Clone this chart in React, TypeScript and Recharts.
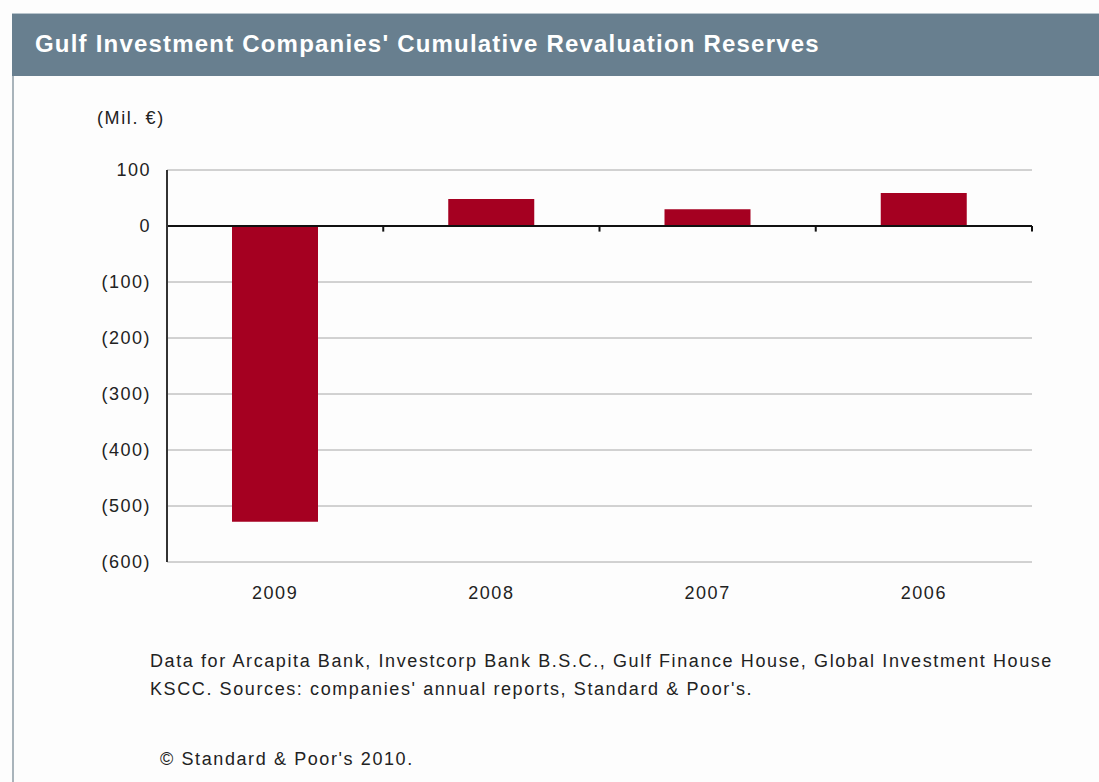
import React from "react";
import {
  Bar,
  BarChart,
  CartesianGrid,
  ReferenceLine,
  XAxis,
  YAxis,
} from "recharts";

const years = ["2009", "2008", "2007", "2006"];
const reserves = [-528, 48, 30, 59];
const yTicks = [100, 0, -100, -200, -300, -400, -500, -600];
const boundaryTicks = [1, 2, 3, 4];

const data = years.map((year, i) => ({ pos: i + 0.5, year, value: reserves[i] }));

const font = "'Liberation Sans', Arial, sans-serif";

const fmtY = (v: number) => (v < 0 ? `(${Math.abs(v)})` : `${v}`);
const fmtX = (v: number) => years[Math.floor(v)] ?? "";

const tickStyle = { fill: "#222", fontSize: 18, fontFamily: font, letterSpacing: 1.5 };

const App: React.FC = () => {
  return (
    <div
      style={{
        position: "absolute",
        left: 0,
        top: 0,
        width: 1099,
        height: 782,
        background: "#fdfdfd",
        fontFamily: font,
        overflow: "hidden",
      }}
    >
      <div
        style={{
          position: "absolute",
          left: 12,
          top: 13,
          width: 1087,
          height: 63,
          background: "#687f8f",
          borderTop: "1px solid #b8c4cc",
          boxSizing: "border-box",
        }}
      />
      <div
        style={{
          position: "absolute",
          left: 12,
          top: 76,
          width: 2,
          height: 706,
          background: "#a9b4bb",
        }}
      />
      <div
        style={{
          position: "absolute",
          left: 35,
          top: 29,
          lineHeight: "30px",
          color: "#ffffff",
          fontWeight: "bold",
          fontSize: 24,
          letterSpacing: 1.2,
          whiteSpace: "nowrap",
        }}
      >
        Gulf Investment Companies' Cumulative Revaluation Reserves
      </div>
      <div
        style={{
          position: "absolute",
          left: 97,
          top: 104,
          lineHeight: "28px",
          fontSize: 18,
          letterSpacing: 1.6,
          color: "#222",
        }}
      >
        (Mil. €)
      </div>
      <div style={{ position: "absolute", left: 0, top: 0 }}>
        <BarChart
          width={1099}
          height={620}
          data={data}
          margin={{ top: 170, right: 67, left: 0, bottom: 28 }}
        >
          <CartesianGrid horizontal vertical={false} stroke="#a6a6a6" />
          <XAxis
            type="number"
            dataKey="pos"
            domain={[0, 4]}
            ticks={[0.5, 1.5, 2.5, 3.5]}
            tickFormatter={fmtX}
            axisLine={false}
            tickLine={false}
            tickMargin={18}
            height={30}
            tick={tickStyle}
          />
          <YAxis
            domain={[-600, 100]}
            ticks={yTicks}
            tickFormatter={fmtY}
            width={167}
            axisLine={{ stroke: "#333", strokeWidth: 2 }}
            tickLine={false}
            tickMargin={10}
            tick={tickStyle}
          />
          <ReferenceLine y={0} stroke="#111" strokeWidth={2} />
          {boundaryTicks.map((b) => (
            <ReferenceLine
              key={b}
              segment={[
                { x: b, y: 0 },
                { x: b, y: -10 },
              ]}
              stroke="#111"
              strokeWidth={2}
            />
          ))}
          <Bar dataKey="value" fill="#a50021" barSize={86} isAnimationActive={false} />
        </BarChart>
      </div>
      <div
        style={{
          position: "absolute",
          left: 150,
          top: 647,
          fontSize: 18,
          lineHeight: "28px",
          letterSpacing: 1.6,
          color: "#222",
          whiteSpace: "nowrap",
        }}
      >
        Data for Arcapita Bank, Investcorp Bank B.S.C., Gulf Finance House, Global Investment House
        <br />
        KSCC. Sources: companies' annual reports, Standard &amp; Poor's.
      </div>
      <div
        style={{
          position: "absolute",
          left: 160,
          top: 745,
          fontSize: 18,
          lineHeight: "28px",
          letterSpacing: 1.6,
          color: "#222",
          whiteSpace: "nowrap",
        }}
      >
        © Standard &amp; Poor's 2010.
      </div>
    </div>
  );
};

export default App;
